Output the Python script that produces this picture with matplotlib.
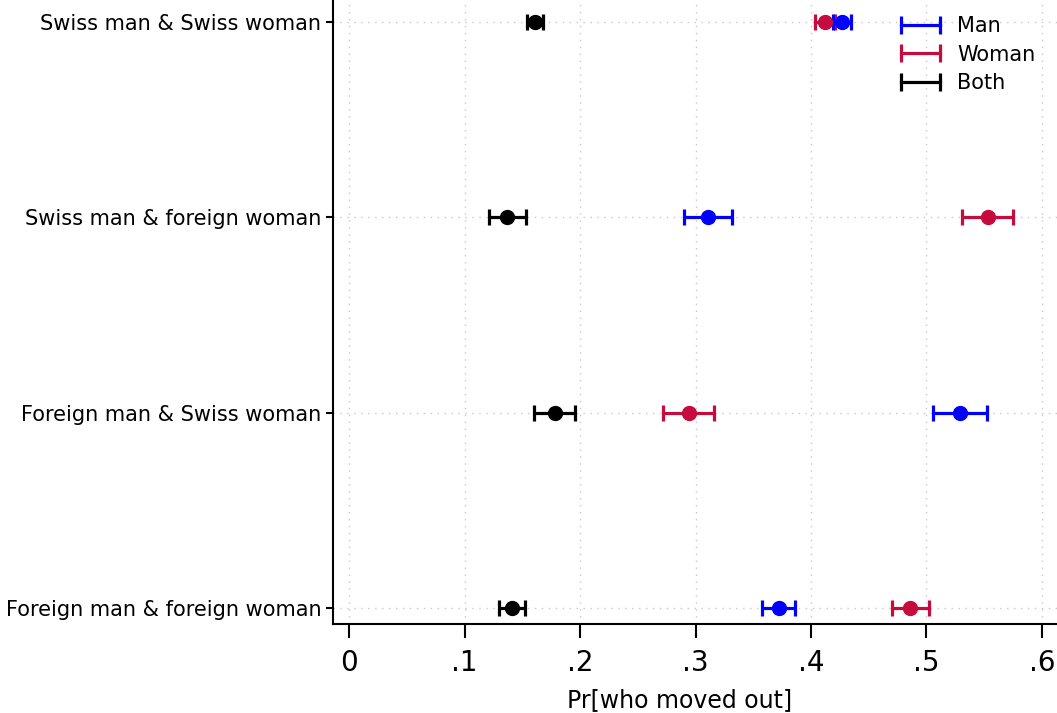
import matplotlib.pyplot as plt
from matplotlib.lines import Line2D
import numpy as np

couples = ["Swiss man & Swiss woman", "Swiss man & foreign woman",
           "Foreign man & Swiss woman", "Foreign man & foreign woman"]

man = [0.427, 0.311, 0.529, 0.372]
man_err = [0.008, 0.021, 0.023, 0.0145]
woman = [0.412, 0.553, 0.294, 0.486]
woman_err = [0.0085, 0.022, 0.022, 0.016]
both = [0.161, 0.137, 0.178, 0.141]
both_err = [0.007, 0.016, 0.018, 0.011]

xticks = [0, 0.1, 0.2, 0.3, 0.4, 0.5, 0.6]
xticklabels = ["0", ".1", ".2", ".3", ".4", ".5", ".6"]

blue = "#0000FF"
red = "#C60C3E"

fig = plt.figure(figsize=(10.57, 7.13), dpi=100)
ax = fig.add_axes([333 / 1057, 1 - 624 / 713, 1 - 333 / 1057, 624 / 713])

ypos = np.arange(len(couples))[::-1] + 1  # 4 (top) .. 1 (bottom)

ax.grid(True, linestyle=(0, (1, 4)), color="#c8c8c8", linewidth=1)
ax.set_axisbelow(True)

kw = dict(fmt="o", markersize=10, elinewidth=2.3, capsize=6, capthick=2.3, zorder=3)
ax.errorbar(both, ypos, xerr=both_err, color="black", **kw)
ax.errorbar(woman, ypos, xerr=woman_err, color=red, **kw)
ax.errorbar(man, ypos, xerr=man_err, color=blue, **kw)

ax.set_xlim(-0.0139, 0.613)
ax.set_ylim(1 - 16 / 195, 4 + 22 / 195)
ax.set_xticks(xticks)
ax.set_xticklabels(xticklabels, fontsize=20)
ax.set_yticks(ypos)
ax.set_yticklabels(couples, fontsize=15)
ax.tick_params(axis="x", length=10, width=1.5, pad=8)
ax.tick_params(axis="y", length=5, width=1.5)

for s in ["top", "right"]:
    ax.spines[s].set_visible(False)
for s in ["left", "bottom"]:
    ax.spines[s].set_linewidth(1.5)

fig.text(680 / 1057, 1 - 700 / 713, "Pr[who moved out]", ha="center", va="center", fontsize=17)

handles = [Line2D([0, 1], [0, 0], color=c, lw=2.3, marker="|", markersize=13, markeredgewidth=2.3)
           for c in [blue, red, "black"]]
ax.legend(handles, ["Man", "Woman", "Both"], loc="upper right", bbox_to_anchor=(0.9905, 0.997),
          frameon=False, fontsize=15, numpoints=2, handlelength=2.45, labelspacing=0.4,
          handletextpad=0.55, borderaxespad=0.3)

fig.savefig("out.png", dpi=100)
